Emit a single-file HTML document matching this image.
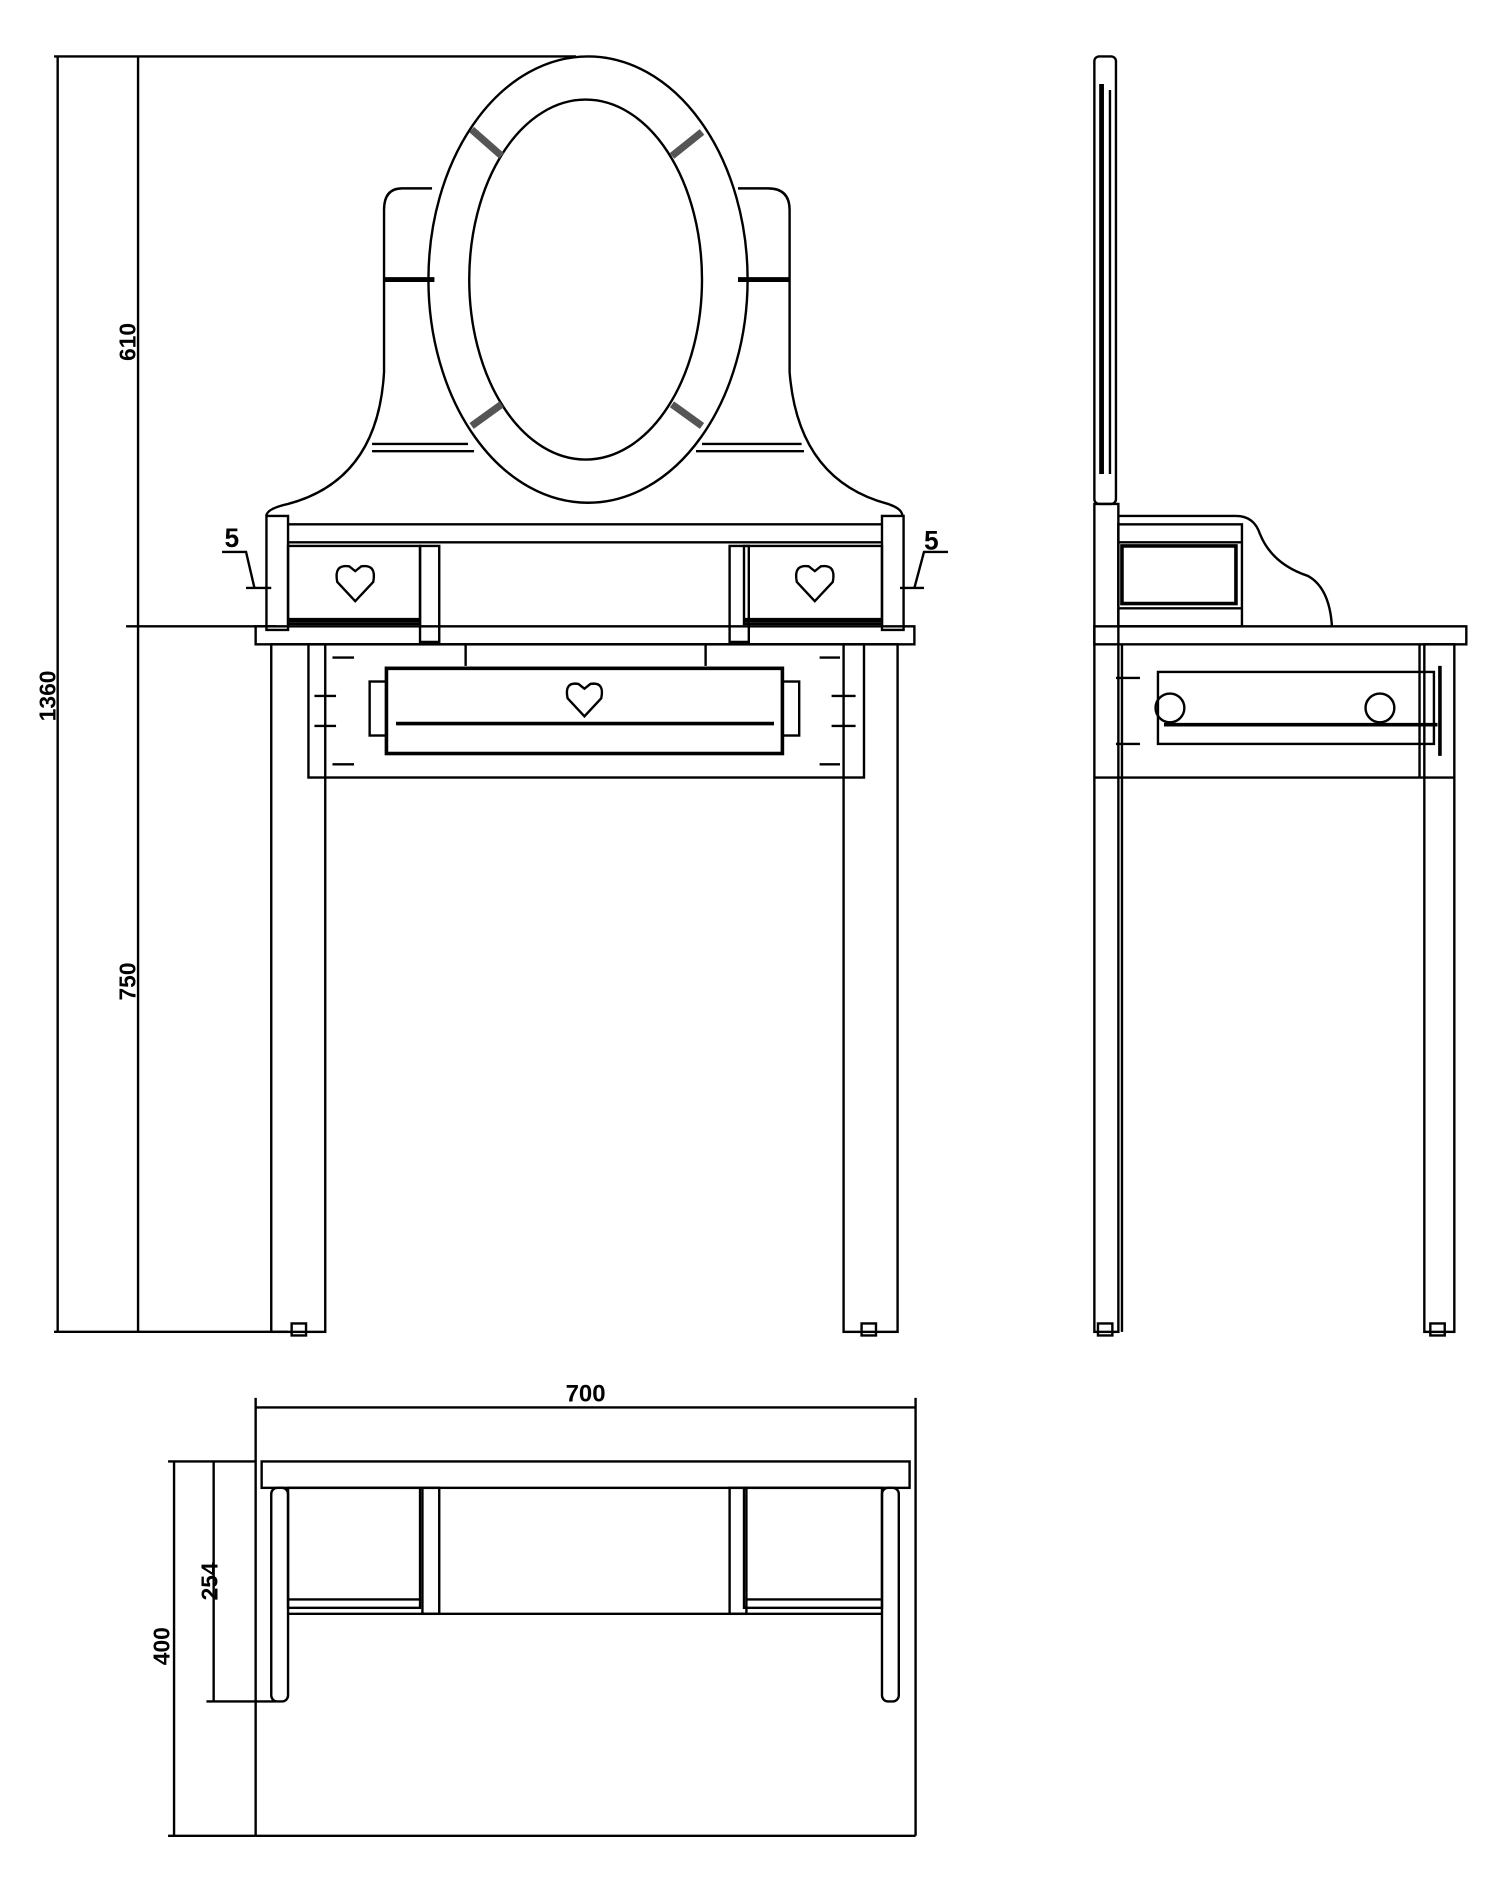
<!DOCTYPE html>
<html><head><meta charset="utf-8"><style>
html,body{margin:0;padding:0;background:#fff;}
svg{display:block}
text{font-family:"Liberation Sans",sans-serif;font-weight:bold;fill:#000}
</style></head><body>
<svg width="1500" height="1891" viewBox="0 0 1250 1576" xmlns="http://www.w3.org/2000/svg">
<g fill="none" stroke="#000" stroke-width="2">
<line x1="45" y1="47" x2="480" y2="47"/>
<line x1="48" y1="47" x2="48" y2="1110"/>
<line x1="115" y1="47" x2="115" y2="1110"/>
<line x1="105" y1="522" x2="230" y2="522"/>
<line x1="45" y1="1110" x2="240" y2="1110"/>
<ellipse cx="490" cy="233" rx="133" ry="186"/>
<ellipse cx="488" cy="233" rx="97" ry="150"/>
<g stroke-width="6" stroke="#555">
<line x1="393" y1="108" x2="418" y2="130"/>
<line x1="560" y1="130" x2="585" y2="110"/>
<line x1="393" y1="355" x2="418" y2="337"/>
<line x1="560" y1="337" x2="585" y2="355"/>
</g>
<path d="M360 157 L335 157 Q320 157 320 175 L320 310 Q315 400 240 420 Q222 424 222 430"/>
<path d="M615 157 L640 157 Q658 157 658 175 L658 310 Q665 400 740 420 Q752 424 752 430"/>
<line x1="310" y1="370" x2="390" y2="370"/><line x1="310" y1="376" x2="395" y2="376"/>
<line x1="585" y1="370" x2="668" y2="370"/><line x1="580" y1="376" x2="670" y2="376"/>
<line x1="320" y1="233" x2="362" y2="233" stroke-width="4"/>
<line x1="615" y1="233" x2="658" y2="233" stroke-width="4"/>
<rect x="222" y="430" width="18" height="95"/>
<rect x="735" y="430" width="18" height="95"/>
<line x1="240" y1="437" x2="735" y2="437"/>
<line x1="240" y1="452" x2="735" y2="452"/>
<rect x="240" y="455" width="110" height="65"/>
<rect x="620" y="455" width="115" height="65"/>
<rect x="350" y="455" width="16" height="80"/>
<rect x="608" y="455" width="16" height="80"/>
<line x1="240" y1="517" x2="350" y2="517" stroke-width="4"/>
<line x1="620" y1="517" x2="735" y2="517" stroke-width="4"/>
<path d="M296 501 L281 485 Q278 470 291 472 L296 476 L301 472 Q314 470 311 485 Z"/>
<path d="M679 501 L664 485 Q661 470 674 472 L679 476 L684 472 Q697 470 694 485 Z"/>
<rect x="213" y="522" width="549" height="15"/>
<rect x="226" y="537" width="45" height="573"/>
<rect x="703" y="537" width="45" height="573"/>
<rect x="243" y="1103" width="12" height="10"/>
<rect x="718" y="1103" width="12" height="10"/>
<rect x="257" y="537" width="463" height="111"/>
<rect x="322" y="557" width="330" height="71" stroke-width="3"/>
<line x1="330" y1="603" x2="645" y2="603" stroke-width="3"/>
<rect x="308" y="568" width="14" height="45"/>
<rect x="652" y="568" width="14" height="45"/>
<path d="M487 597 L473 582 Q470 568 482 570 L487 574 L492 570 Q504 568 501 582 Z"/>
<line x1="388" y1="537" x2="388" y2="555"/><line x1="588" y1="537" x2="588" y2="555"/>
<g stroke-width="2"><line x1="262" y1="580" x2="280" y2="580"/><line x1="262" y1="605" x2="280" y2="605"/>
<line x1="693" y1="580" x2="713" y2="580"/><line x1="693" y1="605" x2="713" y2="605"/>
<line x1="277" y1="548" x2="295" y2="548"/><line x1="683" y1="548" x2="700" y2="548"/>
<line x1="277" y1="637" x2="295" y2="637"/><line x1="683" y1="637" x2="700" y2="637"/></g>
<path d="M185 460 L205 460 L212 490"/><path d="M790 460 L770 460 L762 490"/>
<line x1="205" y1="490" x2="226" y2="490"/><line x1="750" y1="490" x2="770" y2="490"/>
<rect x="912" y="47" width="18" height="373" rx="4"/>
<line x1="918" y1="70" x2="918" y2="395" stroke-width="4"/>
<line x1="925" y1="75" x2="925" y2="395"/>
<rect x="912" y="420" width="20" height="690"/>
<line x1="932" y1="430" x2="1030" y2="430"/>
<path d="M1030 430 Q1045 430 1050 445 Q1060 470 1090 480 Q1108 490 1110 522"/>
<rect x="932" y="437" width="103" height="85"/>
<line x1="932" y1="452" x2="1035" y2="452"/>
<line x1="932" y1="507" x2="1035" y2="507"/>
<rect x="935" y="455" width="95" height="48" stroke-width="3"/>
<rect x="912" y="522" width="310" height="15"/>
<rect x="1187" y="537" width="25" height="573"/>
<line x1="935" y1="537" x2="935" y2="1110"/>
<line x1="912" y1="648" x2="1212" y2="648"/>
<line x1="1183" y1="537" x2="1183" y2="648"/>
<rect x="965" y="560" width="230" height="60"/>
<line x1="970" y1="604" x2="1198" y2="604" stroke-width="3"/>
<circle cx="975" cy="590" r="12"/><circle cx="1150" cy="590" r="12"/>
<line x1="930" y1="565" x2="950" y2="565"/><line x1="930" y1="620" x2="950" y2="620"/>
<line x1="1200" y1="555" x2="1200" y2="630" stroke-width="3"/>
<rect x="915" y="1103" width="12" height="10"/><rect x="1192" y="1103" width="12" height="10"/>
<line x1="213" y1="1173" x2="763" y2="1173"/>
<line x1="213" y1="1165" x2="213" y2="1530"/>
<line x1="763" y1="1165" x2="763" y2="1530"/>
<line x1="213" y1="1530" x2="763" y2="1530"/>
<line x1="140" y1="1218" x2="213" y2="1218"/>
<line x1="145" y1="1218" x2="145" y2="1530"/>
<line x1="140" y1="1530" x2="213" y2="1530"/>
<line x1="178" y1="1218" x2="178" y2="1418"/>
<line x1="172" y1="1418" x2="230" y2="1418"/>
<rect x="218" y="1218" width="540" height="22"/>
<rect x="226" y="1240" width="14" height="178" rx="5"/>
<rect x="735" y="1240" width="14" height="178" rx="5"/>
<rect x="240" y="1240" width="110" height="100"/>
<rect x="620" y="1240" width="115" height="100"/>
<rect x="352" y="1240" width="14" height="105"/>
<rect x="608" y="1240" width="14" height="105"/>
<line x1="240" y1="1345" x2="735" y2="1345"/>
<line x1="240" y1="1333" x2="350" y2="1333"/><line x1="622" y1="1333" x2="735" y2="1333"/>
</g>
<text x="187" y="456" font-size="22">5</text>
<text x="770" y="458" font-size="22">5</text>
<text transform="translate(113,285) rotate(-90)" font-size="19" text-anchor="middle">610</text>
<text transform="translate(46,580) rotate(-90)" font-size="19" text-anchor="middle">1360</text>
<text transform="translate(113,818) rotate(-90)" font-size="19" text-anchor="middle">750</text>
<text x="488" y="1168" font-size="20" text-anchor="middle">700</text>
<text transform="translate(181,1318) rotate(-90)" font-size="19" text-anchor="middle">254</text>
<text transform="translate(141,1372) rotate(-90)" font-size="19" text-anchor="middle">400</text>
</svg>
</body></html>
